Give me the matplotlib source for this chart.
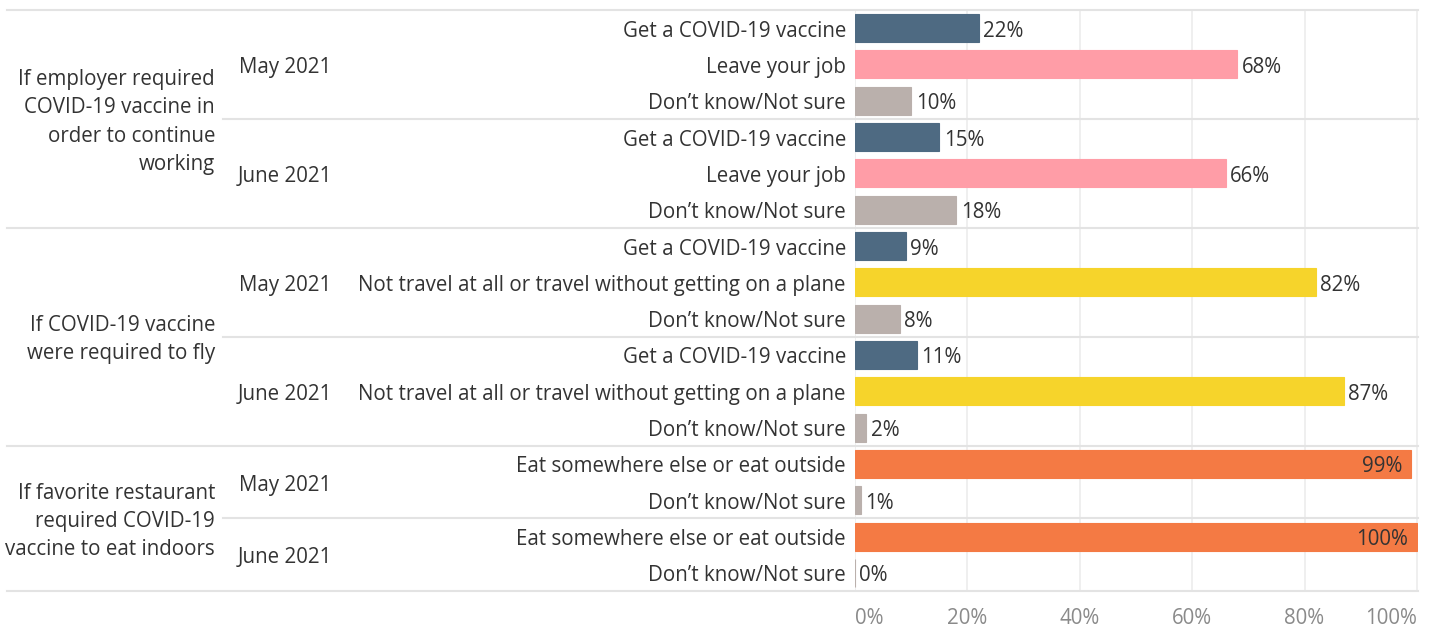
import numpy as np
import matplotlib
matplotlib.use('Agg')
from matplotlib import pyplot as plt
from matplotlib import transforms
from matplotlib.lines import Line2D

# survey scenarios (left header column)
scenarios = ['If employer required\nCOVID-19 vaccine in\norder to continue\nworking',
             'If COVID-19 vaccine\nwere required to fly',
             'If favorite restaurant\nrequired COVID-19\nvaccine to eat indoors']
months = ['May 2021', 'June 2021']

answers_work = ['Get a COVID-19 vaccine', 'Leave your job', 'Don\u2019t know/Not sure']
answers_fly = ['Get a COVID-19 vaccine', 'Not travel at all or travel without getting on a plane',
               'Don\u2019t know/Not sure']
answers_eat = ['Eat somewhere else or eat outside', 'Don\u2019t know/Not sure']

work_may = [22, 68, 10]
work_june = [15, 66, 18]
fly_may = [9, 82, 8]
fly_june = [11, 87, 2]
eat_may = [99, 1]
eat_june = [100, 0]

xticks = [0, 20, 40, 60, 80, 100]
xticklabels = ['0%', '20%', '40%', '60%', '80%', '100%']

colors = {'Get a COVID-19 vaccine': '#4e6a82',
          'Leave your job': '#ff9da7',
          'Don\u2019t know/Not sure': '#bab0ac',
          'Not travel at all or travel without getting on a plane': '#f6d42b',
          'Eat somewhere else or eat outside': '#f47a44'}

panels = [(answers_work, [work_may, work_june]),
          (answers_fly, [fly_may, fly_june]),
          (answers_eat, [eat_may, eat_june])]

plt.rcParams['font.family'] = ['Open Sans', 'DejaVu Sans']
txtc = '#333333'
fs = 14.8
W, H = 1432, 627
fig = plt.figure(figsize=(W/100, H/100), dpi=100)
ax = fig.add_axes([855/W, 1-591/H, (1418-855)/W, 581/H])
down = transforms.ScaledTranslation(0, -3/100, fig.dpi_scale_trans)

# flatten rows
rows_ans, rows_val = [], []
month_pos, scen_pos, month_seps, group_seps = [], [], [], []
r = 0
for gi, (ans, vals) in enumerate(panels):
    g0 = r
    for mi, v in enumerate(vals):
        m0 = r
        for a, x in zip(ans, v):
            rows_ans.append(a)
            rows_val.append(x)
            r += 1
        month_pos.append(((m0 + r - 1)/2, months[mi]))
        if mi < len(vals)-1:
            month_seps.append(r - 0.5)
    scen_pos.append(((g0 + r - 1)/2, scenarios[gi]))
    group_seps.append(r - 0.5)

y = np.arange(len(rows_val))
ax.barh(y, rows_val, height=0.77, color=[colors[a] for a in rows_ans],
        edgecolor=[colors[a] for a in rows_ans], linewidth=0.8, zorder=3)
ax.set_ylim(len(rows_val)-0.5, -0.5)
ax.set_xlim(0, 100.2)

for yi, v in zip(y, rows_val):
    if v > 90:
        ax.text(v-1.6, yi, '%d%%' % v, ha='right', va='center', fontsize=fs, color=txtc, zorder=4,
                transform=ax.transData + down)
    else:
        ax.text(v+0.8, yi, '%d%%' % v, ha='left', va='center', fontsize=fs, color=txtc, zorder=4,
                transform=ax.transData + down)

for s in ax.spines.values():
    s.set_visible(False)
ax.set_yticks([])
ax.set_xticks(xticks)
ax.set_xticklabels(xticklabels, fontsize=fs, color='#8a8a8a')
ax.tick_params(axis='x', length=0, pad=12)
tl = ax.get_xticklabels()
tl[0].set_ha('left')
tl[-1].set_ha('right')
for gx in xticks:
    ax.axvline(gx, color='#ececec', lw=1.2, zorder=1)

trans = transforms.blended_transform_factory(fig.transFigure, ax.transData)
for yi, a in zip(y, rows_ans):
    ax.text(846/W, yi, a, transform=trans + down, ha='right', va='center', fontsize=fs, color=txtc)
for yp, m in month_pos:
    ax.text(285/W, yp, m, transform=trans + down, ha='center', va='center', fontsize=fs, color=txtc)
for yp, s in scen_pos:
    ax.text(215/W, yp, s, transform=trans + down, ha='right', va='center', fontsize=fs, color=txtc,
            linespacing=1.45)

linec = '#e3e3e3'
for ys in [-0.5] + group_seps:
    fig.add_artist(Line2D([7/W, 1418/W], [ys, ys], transform=trans, color=linec, lw=1.5))
for ys in month_seps:
    fig.add_artist(Line2D([223/W, 1418/W], [ys, ys], transform=trans, color=linec, lw=1.5))

fig.savefig('out.png', dpi=100)
